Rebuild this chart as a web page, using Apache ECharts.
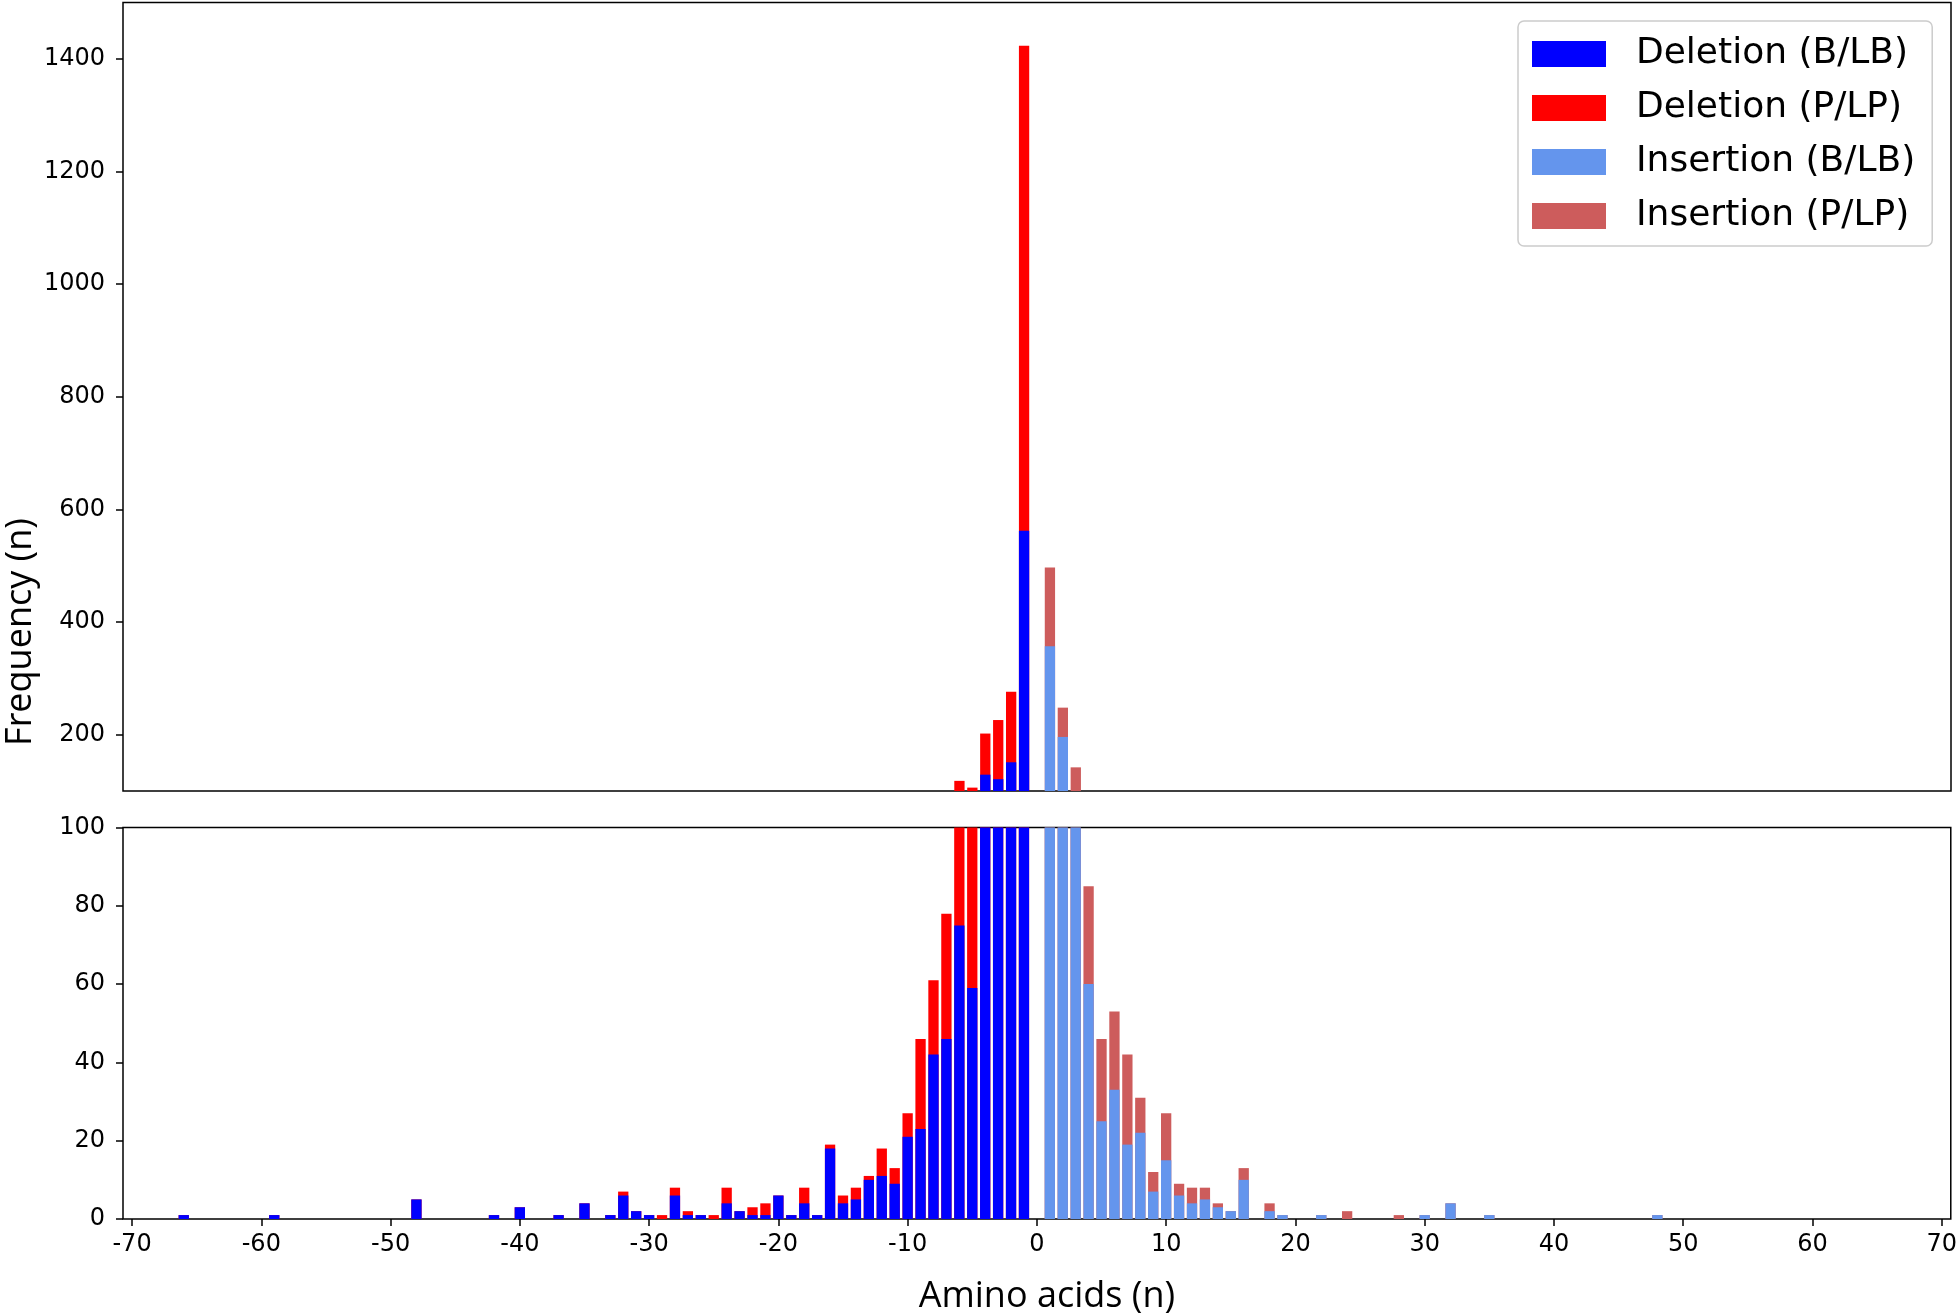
<!DOCTYPE html>
<html>
<head>
<meta charset="utf-8">
<script src="https://cdn.jsdelivr.net/npm/echarts@6/dist/echarts.min.js"></script>
<style>
html,body{margin:0;padding:0;background:#ffffff;}
#chart{width:1960px;height:1316px;}
</style>
</head>
<body>
<div id="chart"></div>
<script>
// ---- data ----
const deletionAA = [-66,-59,-48,-42,-40,-37,-35,-33,-32,-31,-30,-29,-28,-27,-26,-25,-24,-23,-22,-21,-20,-19,-18,-17,-16,-15,-14,-13,-12,-11,-10,-9,-8,-7,-6,-5,-4,-3,-2,-1];
const deletionBenign = [1,1,5,1,3,1,4,1,6,2,1,0,6,1,1,0,4,2,1,1,6,1,4,1,18,4,5,10,11,9,21,23,42,46,75,59,129,121,151,562];
const deletionPathogenic = [0,0,0,0,0,0,0,0,1,0,0,1,2,1,0,1,4,0,2,3,0,0,4,0,1,2,3,1,7,4,6,23,19,32,43,47,73,105,125,861];

const insertionAA = [1,2,3,4,5,6,7,8,9,10,11,12,13,14,15,16,18,19,22,24,28,30,32,35,48];
const insertionBenign = [357,196,100,60,25,33,19,22,7,15,6,4,5,3,2,10,2,1,1,0,0,1,4,1,1];
const insertionPathogenic = [140,52,42,25,21,20,23,9,5,12,3,4,3,1,0,3,2,0,0,2,1,0,0,0,0];

const xTicks = [-70,-60,-50,-40,-30,-20,-10,0,10,20,30,40,50,60,70];
const topYTicks = [200,400,600,800,1000,1200,1400];
const bottomYTicks = [0,20,40,60,80,100];

const seriesNames = ['Deletion (B/LB)','Deletion (P/LP)','Insertion (B/LB)','Insertion (P/LP)'];
const seriesColors = ['#0000ff','#ff0000','#6495ed','#cd5c5c'];

// ---- chart ----
const chart = echarts.init(document.getElementById('chart'), null, {renderer:'canvas'});
const pairs = (xs, vs) => xs.map((x, i) => [x, vs[i]]);
// stacked top = base + upper segment (pathogenic bar sits on top of benign bar)
const stackTop = (base, upper) => base.map((v, i) => v + upper[i]);

const tickFont = {fontFamily:'DejaVu Sans', fontSize:24, color:'#000000', formatter: v => String(v)};
const black = {color:'#000000', width:1.5};

function barSeries(idx, xs, vs, gi) {
  return {
    type:'bar', name:seriesNames[idx], xAxisIndex:gi, yAxisIndex:gi,
    data: pairs(xs, vs), barWidth:10.3, barGap:'-100%',
    itemStyle:{color:seriesColors[idx]}, clip:true, animation:false,
    emphasis:{disabled:true}
  };
}

const series = [];
[0,1].forEach(gi => {
  // upper (pathogenic) segments drawn first, benign segments drawn over their lower part
  series.push(barSeries(1, deletionAA, stackTop(deletionBenign, deletionPathogenic), gi));
  series.push(barSeries(0, deletionAA, deletionBenign, gi));
  series.push(barSeries(3, insertionAA, stackTop(insertionBenign, insertionPathogenic), gi));
  series.push(barSeries(2, insertionAA, insertionBenign, gi));
});

const option = {
  backgroundColor:'#ffffff',
  animation:false,
  grid:[
    {left:123, right:9, top:2.5, height:788.5, show:true, borderColor:'#000000', borderWidth:1.5, backgroundColor:'transparent', containLabel:false},
    {left:123, right:9, top:827.5, height:395, show:true, borderColor:'#000000', borderWidth:1.5, backgroundColor:'transparent', containLabel:false}
  ],
  xAxis:[
    {gridIndex:0, type:'value', min:-70.7, max:70.7,
     axisLine:{show:false, onZero:false}, axisTick:{show:false}, axisLabel:{show:false}, splitLine:{show:false}},
    {gridIndex:1, type:'value', min:-70.7, max:70.7,
     axisLine:{show:false, onZero:false},
     axisTick:{show:true, length:7, lineStyle:black, customValues:xTicks},
     axisLabel:Object.assign({customValues:xTicks, margin:14}, tickFont),
     splitLine:{show:false},
     name:'Amino acids (n)', nameLocation:'middle', nameGap:60,
     nameTextStyle:{fontFamily:'Open Sans', fontSize:36, color:'#000000', padding:[0,0,0,20]}}
  ],
  yAxis:[
    {gridIndex:0, type:'value', min:100, max:1500,
     axisLine:{show:false, onZero:false},
     axisTick:{show:true, length:7, lineStyle:black, customValues:topYTicks},
     axisLabel:Object.assign({customValues:topYTicks, margin:18}, tickFont),
     splitLine:{show:false}},
    {gridIndex:1, type:'value', min:0, max:100,
     axisLine:{show:false, onZero:false},
     axisTick:{show:true, length:7, lineStyle:black, customValues:bottomYTicks},
     axisLabel:Object.assign({customValues:bottomYTicks, margin:18}, tickFont),
     splitLine:{show:false}}
  ],
  legend:{
    data:seriesNames, orient:'vertical', left:1518, top:21,
    itemWidth:74, itemHeight:26, itemGap:18, icon:'rect',
    padding:[15,17,12,14], backgroundColor:'#ffffff',
    borderColor:'#cccccc', borderWidth:1.5, borderRadius:6,
    selectedMode:false,
    textStyle:{fontFamily:'DejaVu Sans', fontSize:36, color:'#000000', lineHeight:36, padding:[0,0,0,25]}
  },
  graphic:[
    {type:'text', x:21, y:632, rotation:Math.PI/2,
     style:{text:'Frequency (n)', fontFamily:'Open Sans', fontSize:36, fill:'#000000', align:'center', verticalAlign:'middle'}}
  ],
  series: series
};
chart.setOption(option);
</script>
</body>
</html>
